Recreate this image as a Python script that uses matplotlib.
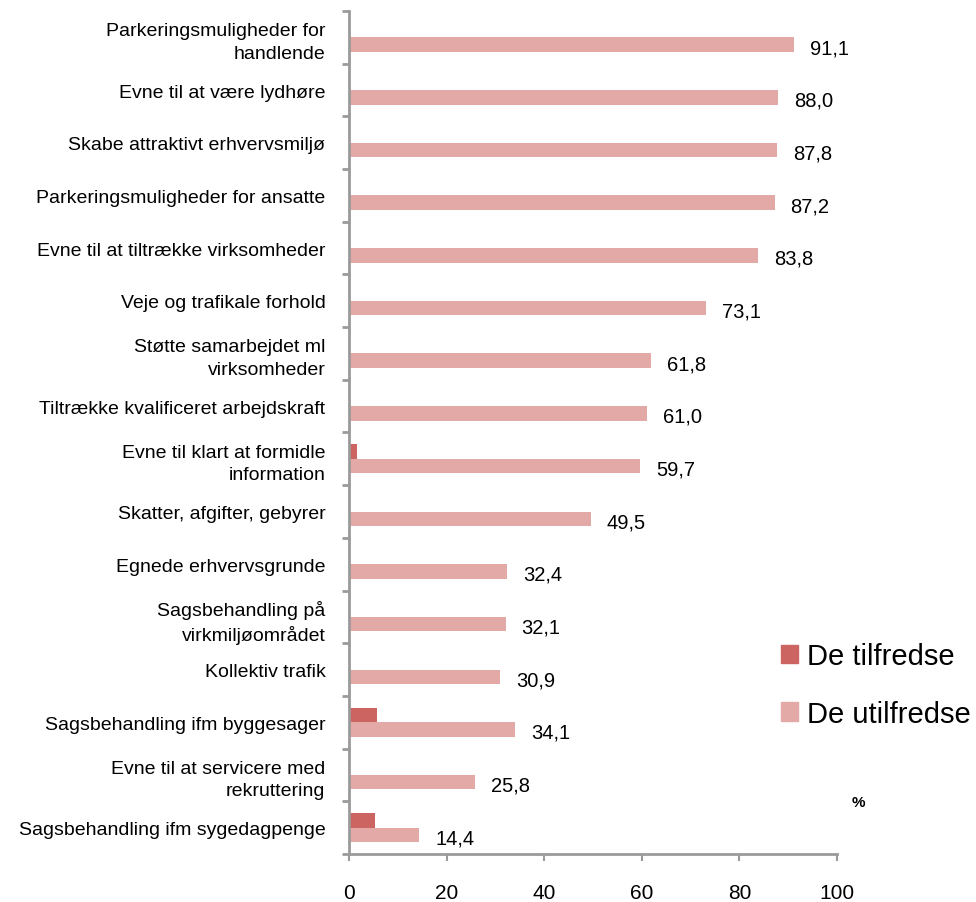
import matplotlib
matplotlib.use('Agg')
import matplotlib.pyplot as plt
import matplotlib.transforms as mtransforms
import numpy as np
from matplotlib.patches import Patch

plt.rcParams['font.family'] = ['Liberation Sans', 'DejaVu Sans']

# Data (top til bund)
kategorier = [
    'Parkeringsmuligheder for\nhandlende',
    'Evne til at være lydhøre',
    'Skabe attraktivt erhvervsmiljø',
    'Parkeringsmuligheder for ansatte',
    'Evne til at tiltrække virksomheder',
    'Veje og trafikale forhold',
    'Støtte samarbejdet ml\nvirksomheder',
    'Tiltrække kvalificeret arbejdskraft',
    'Evne til klart at formidle\ninformation',
    'Skatter, afgifter, gebyrer',
    'Egnede erhvervsgrunde',
    'Sagsbehandling på\nvirkmiljøområdet',
    'Kollektiv trafik',
    'Sagsbehandling ifm byggesager',
    'Evne til at servicere med\nrekruttering',
    'Sagsbehandling ifm sygedagpenge',
]
tilfredse = [0, 0, 0, 0, 0, 0, 0, 0, 1.6, 0, 0, 0, 0, 5.7, 0, 5.3]
utilfredse = [91.1, 88.0, 87.8, 87.2, 83.8, 73.1, 61.8, 61.0, 59.7, 49.5,
              32.4, 32.1, 30.9, 34.1, 25.8, 14.4]
x_ticks = [0, 20, 40, 60, 80, 100]

FARVE_TILF = '#CC6561'
FARVE_UTILF = '#E3A9A7'
GRAA = '#9A9A9A'

fig = plt.figure(figsize=(9.76, 9.03), dpi=100)
ax = fig.add_axes([0.3576, 0.0532, 0.5, 0.9335])

y = np.arange(len(kategorier))
h = 0.275
ax.barh(y - h / 2, tilfredse, height=h, color=FARVE_TILF)
ax.barh(y + h / 2, utilfredse, height=h, color=FARVE_UTILF)

for yi, v in zip(y, utilfredse):
    ax.annotate(f'{v:.1f}'.replace('.', ','), xy=(v, yi + h / 2),
                xytext=(16, -3), textcoords='offset pixels',
                ha='left', va='center', fontsize=14.5)

ax.set_xlim(0, 100)
ax.set_ylim(len(kategorier) - 0.5, -0.5)
ax.set_xticks(x_ticks)
ax.set_yticks(y)
ax.set_yticklabels(kategorier, fontsize=14, linespacing=1.4)
ax.set_yticks(np.arange(len(kategorier) + 1) - 0.5, minor=True)

# etiketterne står lidt under midten i originalen
forskyd = mtransforms.ScaledTranslation(0, -4 / 100, fig.dpi_scale_trans)
for lab in ax.get_yticklabels():
    lab.set_transform(lab.get_transform() + forskyd)

ax.tick_params(axis='y', which='major', length=0, pad=17)
ax.tick_params(axis='y', which='minor', length=5, width=2, color=GRAA)
ax.tick_params(axis='x', length=5, width=1.5, color=GRAA, pad=16, labelsize=15)

for s in ['top', 'right']:
    ax.spines[s].set_visible(False)
for s in ['left', 'bottom']:
    ax.spines[s].set_color(GRAA)
    ax.spines[s].set_linewidth(2)

handles = [Patch(color=FARVE_TILF), Patch(color=FARVE_UTILF)]
fig.legend(handles, ['De tilfredse', 'De utilfredse'], loc='center left',
           bbox_to_anchor=(0.800, 0.2403), frameon=False, fontsize=21,
           handlelength=0.6, handleheight=0.6, handletextpad=0.3,
           labelspacing=1.0, borderaxespad=0, borderpad=0)

fig.text(858 / 976, 1 - 803 / 903, '%', fontsize=11, fontweight='bold',
         ha='center', va='center')

fig.savefig('out.png', dpi=100)
